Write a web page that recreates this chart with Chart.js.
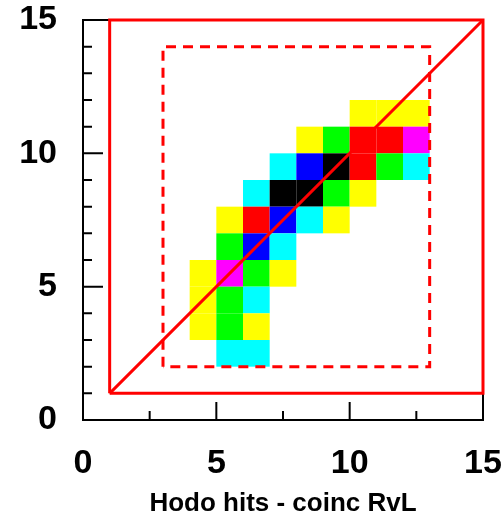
<!DOCTYPE html>
<html>
<head>
<meta charset="utf-8">
<script src="https://cdn.jsdelivr.net/npm/chart.js@4.4.0/dist/chart.umd.min.js"></script>
<style>
  html, body { margin: 0; padding: 0; background: #fff; overflow: hidden; }
</style>
</head>
<body>
<canvas id="hodoChart" width="503" height="512"></canvas>
<script>
// bin lower edges (unit width bins)
var binX = [4, 5, 6, 7, 8, 9, 10, 11, 12];
var binY = [11, 10, 9, 8, 7, 6, 5, 4, 3, 2];

// hit counts per bin, one row per binY entry (top row first)
var counts = [
  [0, 0, 0, 0, 0, 0, 6, 6, 6],
  [0, 0, 0, 0, 6, 22, 40, 40, 31],
  [0, 0, 0, 14, 49, 58, 40, 22, 14],
  [0, 0, 14, 58, 58, 22, 6, 0, 0],
  [0, 6, 40, 49, 14, 6, 0, 0, 0],
  [0, 22, 49, 14, 0, 0, 0, 0, 0],
  [6, 31, 22, 6, 0, 0, 0, 0, 0],
  [6, 22, 14, 0, 0, 0, 0, 0, 0],
  [6, 22, 6, 0, 0, 0, 0, 0, 0],
  [0, 14, 14, 0, 0, 0, 0, 0, 0]
];

// contour levels and the colour used from each level up
var levels = [1, 10, 19, 28, 37, 46, 55];
var palette = ['#ffff00', '#00ffff', '#00ff00', '#ff00ff', '#ff0000', '#0000ff', '#000000'];

// cut boxes and the R = L diagonal
var outerCut = [{x: 1, y: 1}, {x: 1, y: 15}, {x: 15, y: 15}, {x: 15, y: 1}, {x: 1, y: 1}];
var innerCut = [{x: 3, y: 2}, {x: 3, y: 14}, {x: 13, y: 14}, {x: 13, y: 2}, {x: 3, y: 2}];
var diagonal = [{x: 1, y: 1}, {x: 15, y: 15}];

var axisMin = 0;
var axisMax = 15;
var tickStep = 5;
var xTitle = 'Hodo hits - coinc RvL';

function colorFor(v) {
  var c = palette[0];
  for (var i = 0; i < levels.length; i++) {
    if (v >= levels[i]) c = palette[i];
  }
  return c;
}

var labelFont = {family: '"Liberation Sans", Arial, sans-serif', size: 34, weight: 'bold', lineHeight: 1.15};

// keep the frame where it is: no extra room for overhanging labels
function fixBox(size, dim) {
  return function (scale) {
    scale[dim] = size;
    scale.paddingTop = scale.paddingBottom = scale.paddingLeft = scale.paddingRight = 0;
  };
}

// draws the histogram cells, the frame and the inward tick marks
var histoPlugin = {
  id: 'histo2d',
  beforeDatasetsDraw: function (chart) {
    var ctx = chart.ctx;
    var xs = chart.scales.x;
    var ys = chart.scales.y;
    var area = chart.chartArea;
    ctx.save();

    counts.forEach(function (row, j) {
      row.forEach(function (v, i) {
        if (!v) return;
        var x0 = xs.getPixelForValue(binX[i]);
        var x1 = xs.getPixelForValue(binX[i] + 1);
        var y0 = ys.getPixelForValue(binY[j] + 1);
        var y1 = ys.getPixelForValue(binY[j]);
        ctx.fillStyle = colorFor(v);
        ctx.fillRect(x0, y0, x1 - x0, y1 - y0);
      });
    });

    ctx.strokeStyle = '#000';
    ctx.lineWidth = 2;
    ctx.strokeRect(area.left, area.top, area.right - area.left, area.bottom - area.top);

    ctx.beginPath();
    var v, p, len;
    for (v = axisMin; v <= axisMax; v += 2.5) {
      p = xs.getPixelForValue(v);
      len = v % tickStep === 0 ? 18 : 9;
      ctx.moveTo(p, area.bottom);
      ctx.lineTo(p, area.bottom - len);
    }
    for (v = axisMin + 1; v < axisMax; v += 1) {
      p = ys.getPixelForValue(v);
      len = v % tickStep === 0 ? 20 : 9;
      ctx.moveTo(area.left, p);
      ctx.lineTo(area.left + len, p);
    }
    ctx.stroke();
    ctx.restore();
  }
};

function lineSet(data, dash) {
  return {
    type: 'scatter',
    data: data,
    showLine: true,
    borderColor: '#ff0000',
    borderWidth: 3,
    borderDash: dash || [],
    pointRadius: 0,
    fill: false,
    clip: false
  };
}

new Chart(document.getElementById('hodoChart').getContext('2d'), {
  type: 'scatter',
  data: {
    datasets: [
      lineSet(innerCut, [10, 7]),
      lineSet(outerCut),
      lineSet(diagonal)
    ]
  },
  options: {
    responsive: false,
    animation: false,
    layout: {padding: {left: 0, top: 20, right: 20, bottom: 0}},
    plugins: {
      legend: {display: false},
      tooltip: {enabled: false}
    },
    scales: {
      x: {
        type: 'linear',
        min: axisMin,
        max: axisMax,
        afterFit: fixBox(92, 'height'),
        border: {display: false},
        grid: {display: false, drawTicks: false},
        ticks: {stepSize: tickStep, color: '#000', font: labelFont, padding: 24, maxRotation: 0},
        title: {
          display: true,
          text: xTitle,
          color: '#000',
          font: {family: '"Liberation Sans", Arial, sans-serif', size: 26, weight: 'bold', lineHeight: 0.6},
          padding: {top: 0, bottom: 0}
        }
      },
      y: {
        type: 'linear',
        min: axisMin,
        max: axisMax,
        afterFit: fixBox(83, 'width'),
        border: {display: false},
        grid: {display: false, drawTicks: false},
        ticks: {stepSize: tickStep, color: '#000', font: labelFont, padding: 26}
      }
    }
  },
  plugins: [histoPlugin]
});
</script>
</body>
</html>
